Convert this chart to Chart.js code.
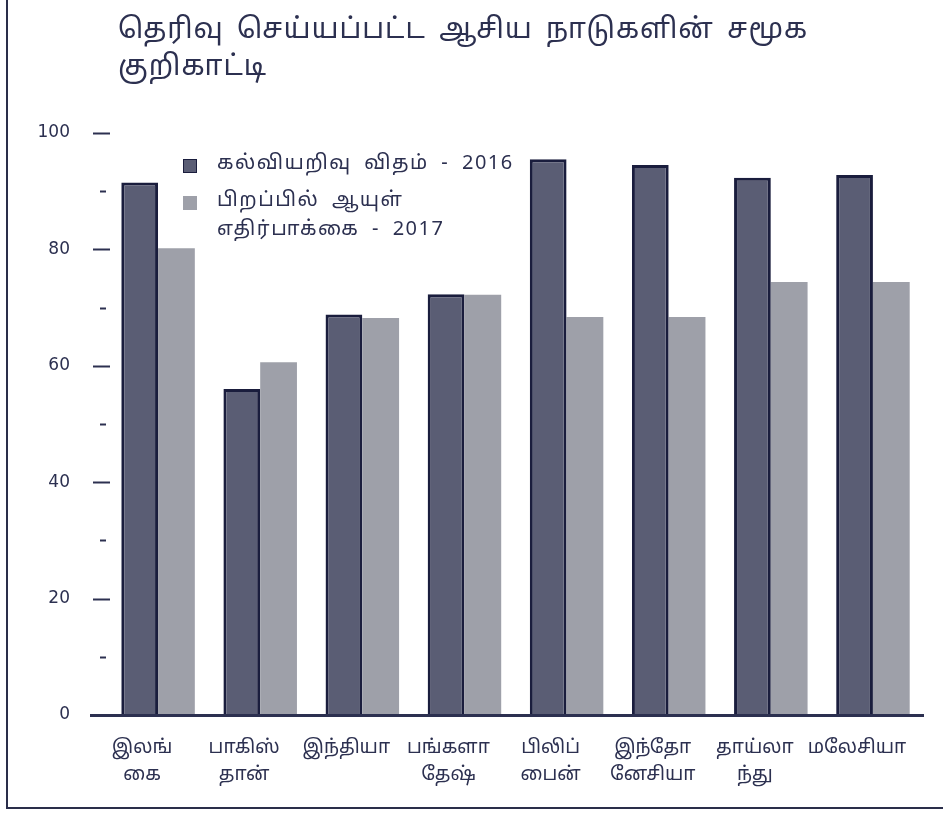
<!DOCTYPE html>
<html>
<head>
<meta charset="utf-8">
<script src="https://cdn.jsdelivr.net/npm/chart.js@4.4.0/dist/chart.umd.min.js"></script>
<style>
  body { margin: 0; background: #fff; }
  #wrap { position: relative; width: 943px; height: 813px; }
  #frame { position: absolute; left: 6px; top: -2px; width: 945px; height: 809px;
           border-left: 2px solid #2a2e4a; border-bottom: 2px solid #2a2e4a; }
  #title { position: absolute; left: 118px; top: 13px; font: 28px "Noto Sans Tamil", "Lohit Tamil", "Noto Sans", sans-serif;
           color: #2c3050; line-height: 37px; letter-spacing: 1px; word-spacing: 5px; }
  #legend { position: absolute; left: 183px; top: 150px; font: 20px "Noto Sans Tamil", "Lohit Tamil", "Noto Sans", sans-serif;
            color: #2c3050; line-height: 29px; letter-spacing: 1.5px; word-spacing: 6px; }
  .item { display: flex; align-items: flex-start; margin-bottom: 8px; }
  .box { width: 12px; height: 12px; margin: 9px 20px 0 0; flex: none; }
  canvas { position: absolute; left: 0; top: 0; }
</style>
</head>
<body>
<div id="wrap">
  <div id="frame"></div>
  <canvas id="chart" width="943" height="813"></canvas>
  <div id="title">தெரிவு செய்யப்பட்ட ஆசிய நாடுகளின் சமூக<br>குறிகாட்டி</div>
  <div id="legend"></div>
</div>
<script>
const countries = [
    ['இலங்', 'கை'],
    ['பாகிஸ்', 'தான்'],
    ['இந்தியா'],
    ['பங்களா', 'தேஷ்'],
    ['பிலிப்', 'பைன்'],
    ['இந்தோ', 'னேசியா'],
    ['தாய்லா', 'ந்து'],
    ['மலேசியா']
]
const literacy2016 = [91.5, 56.0, 68.8, 72.3, 95.5, 94.5, 92.3, 92.8]
const lifeExpectancy2017 = [80.2, 60.6, 68.2, 72.2, 68.4, 68.4, 74.4, 74.4]
const seriesNames = [
    ['கல்வியறிவு விதம் - 2016'],
    ['பிறப்பில் ஆயுள்', 'எதிர்பாக்கை - 2017']
]
const yTicks = [0, 20, 40, 60, 80, 100]

const darkFill = '#5a5d74'
const darkEdge = '#1a1d3d'
const lightFill = '#9ea0a9'
const inkColor = '#2c3050'
const tamilFont = '"Noto Sans Tamil", "Lohit Tamil", "Noto Sans", sans-serif'

// tick dashes on the y axis and the base line
const axisMarks = {
    id: 'axisMarks',
    afterDraw(chart) {
        const ctx = chart.ctx
        const y = chart.scales.y
        const area = chart.chartArea
        ctx.save()
        ctx.strokeStyle = inkColor
        ctx.lineWidth = 2
        for (let v = 0; v <= 100; v += 10) {
            const py = Math.round(y.getPixelForValue(v)) + 0.5
            const major = yTicks.includes(v)
            ctx.beginPath()
            if (major) {
                ctx.moveTo(area.left - 14, py)
                ctx.lineTo(area.left + 3, py)
            } else {
                ctx.moveTo(area.left - 7, py)
                ctx.lineTo(area.left - 1, py)
            }
            ctx.stroke()
        }
        const base = Math.round(y.getPixelForValue(0)) + 0.5
        ctx.lineWidth = 3
        ctx.beginPath()
        ctx.moveTo(area.left - 17, base)
        ctx.lineTo(area.right, base)
        ctx.stroke()
        ctx.restore()
    }
}

document.getElementById('legend').innerHTML = seriesNames.map((name, i) =>
    '<div class="item"><span class="box" style="background:' + (i === 0 ? darkFill : lightFill) +
    ';border:' + (i === 0 ? '1px solid ' + darkEdge : '1px solid ' + lightFill) + '"></span><span>' +
    name.join('<br>') + '</span></div>').join('')

const context = document.getElementById('chart').getContext('2d')

const chart = new Chart(context, {
    type: 'bar',
    data: {
        labels: countries,
        datasets: [{
            label: seriesNames[0].join(' '),
            data: literacy2016,
            backgroundColor: darkFill,
            borderColor: darkEdge,
            borderWidth: 3,
            borderSkipped: 'bottom',
            barPercentage: 1,
            categoryPercentage: 0.72
        }, {
            label: seriesNames[1].join(' '),
            data: lifeExpectancy2017,
            backgroundColor: lightFill,
            borderWidth: 0,
            barPercentage: 1,
            categoryPercentage: 0.72
        }]
    },
    options: {
        responsive: false,
        animation: false,
        layout: { padding: { top: 133, right: 19, left: 0, bottom: 0 } },
        plugins: {
            legend: { display: false },
            tooltip: { enabled: false }
        },
        scales: {
            x: {
                grid: { display: false },
                border: { display: false },
                ticks: {
                    color: inkColor,
                    font: { family: tamilFont, size: 19, lineHeight: 1.45 },
                    padding: 12,
                    labelOffset: -16,
                    maxRotation: 0,
                    autoSkip: false
                },
                afterFit(scale) { scale.height = 98 }
            },
            y: {
                min: 0,
                max: 100,
                grid: { display: false },
                border: { display: false },
                ticks: {
                    stepSize: 20,
                    color: inkColor,
                    font: { family: 'DejaVu Sans', size: 17 },
                    padding: 29
                },
                afterFit(scale) { scale.width = 107 }
            }
        }
    },
    plugins: [axisMarks]
})
</script>
</body>
</html>
